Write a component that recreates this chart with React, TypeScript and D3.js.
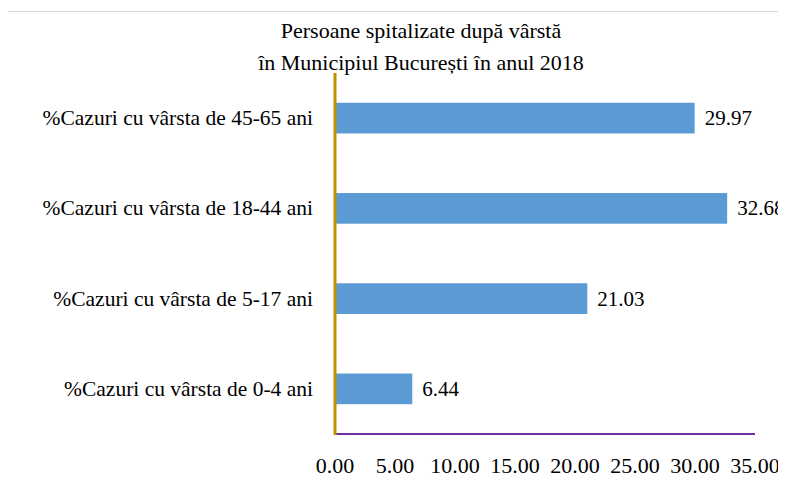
import React from 'react';
import * as d3 from 'd3';

const categories = [
  '%Cazuri cu vârsta de 45-65 ani',
  '%Cazuri cu vârsta de 18-44 ani',
  '%Cazuri cu vârsta de 5-17 ani',
  '%Cazuri cu vârsta de 0-4 ani',
];
const values = [29.97, 32.68, 21.03, 6.44];
const xTicks = [0, 5, 10, 15, 20, 25, 30, 35];
const titleLines = ['Persoane spitalizate după vârstă', 'în Municipiul București în anul 2018'];

const W = 786;
const H = 479;
const left = 335;
const right = 755;
const top = 73;
const bottom = 434;

function Label({ x, y, size, anchor = 'start', children }: any) {
  return (
    <text x={x} y={y} fontSize={size} textAnchor={anchor} style={{ fontFamily: 'Liberation Serif' }}>
      {children}
    </text>
  );
}

function App() {
  const x = d3.scaleLinear().domain([0, 35]).range([left, right]);
  const y = d3.scaleBand().domain(categories).range([top, bottom]).paddingInner(0.66).paddingOuter(0.33);

  // body has an 8px margin, so shift everything back by 8
  return (
    <svg width={W} height={H} overflow="visible">
      <g transform="translate(-8,-8)">
        <rect x={7.5} y={11.5} width={900} height={600} fill="#fff" stroke="#d9d9d9" />
        {titleLines.map((t, i) => (
          <Label key={t} x={421} y={38 + i * 32} size={22} anchor="middle">{t}</Label>
        ))}
        {categories.map((c, i) => (
          <g key={c}>
            <rect x={x(0)} y={y(c)} width={x(values[i]) - x(0)} height={y.bandwidth()} fill="#5b9bd5" />
            <Label x={x(values[i]) + 10} y={y(c)! + y.bandwidth() / 2 + 7} size={21}>
              {values[i].toFixed(2)}
            </Label>
            <Label x={313} y={y(c)! + y.bandwidth() / 2 + 7} size={21.5} anchor="end">{c}</Label>
          </g>
        ))}
        <line x1={x(0)} x2={x(35)} y1={bottom} y2={bottom} stroke="#7030a0" strokeWidth={2} />
        <line x1={x(0)} x2={x(0)} y1={top} y2={bottom + 1} stroke="#bf9000" strokeWidth={3} />
        {xTicks.map(t => (
          <Label key={t} x={x(t)} y={473} size={22} anchor="middle">{t.toFixed(2)}</Label>
        ))}
      </g>
    </svg>
  );
}

export default App;
